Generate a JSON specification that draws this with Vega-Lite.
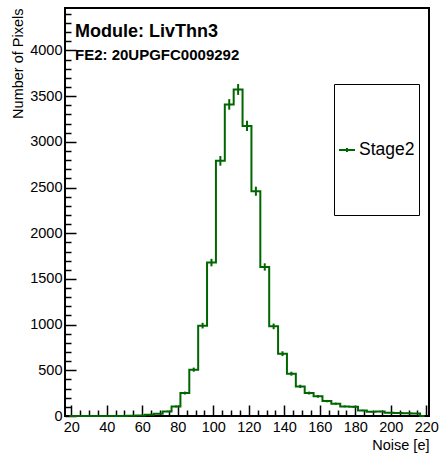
{
  "$schema": "https://vega.github.io/schema/vega-lite/v6.json",
  "width": 364,
  "height": 408,
  "autosize": {"type": "none"},
  "padding": {"left": 65, "top": 8, "right": 12, "bottom": 41},
  "background": "white",
  "title": {
    "text": "Module: LivThn3",
    "subtitle": "FE2: 20UPGFC0009292",
    "anchor": "start",
    "frame": "group",
    "orient": "top",
    "offset": -57,
    "dx": 10,
    "font": "Liberation Sans",
    "fontSize": 18,
    "fontWeight": "bold",
    "color": "black",
    "subtitleFont": "Liberation Sans",
    "subtitleFontSize": 15,
    "subtitleFontWeight": "bold",
    "subtitleColor": "black",
    "subtitlePadding": 7
  },
  "data": {
    "values": [
      {"noise": 19, "count": 0, "err": 0, "series": "Stage2"},
      {"noise": 24, "count": 0, "err": 0, "series": "Stage2"},
      {"noise": 29, "count": 0, "err": 0, "series": "Stage2"},
      {"noise": 34, "count": 0, "err": 0, "series": "Stage2"},
      {"noise": 39, "count": 0, "err": 0, "series": "Stage2"},
      {"noise": 44, "count": 0, "err": 0, "series": "Stage2"},
      {"noise": 49, "count": 0, "err": 0, "series": "Stage2"},
      {"noise": 54, "count": 2, "err": 1.4, "series": "Stage2"},
      {"noise": 59, "count": 5, "err": 2.2, "series": "Stage2"},
      {"noise": 64, "count": 14, "err": 3.7, "series": "Stage2"},
      {"noise": 69, "count": 25, "err": 5, "series": "Stage2"},
      {"noise": 74, "count": 50, "err": 7, "series": "Stage2"},
      {"noise": 79, "count": 105, "err": 10, "series": "Stage2"},
      {"noise": 84, "count": 251, "err": 16, "series": "Stage2"},
      {"noise": 89, "count": 507, "err": 22.5, "series": "Stage2"},
      {"noise": 94, "count": 989, "err": 31, "series": "Stage2"},
      {"noise": 99, "count": 1679, "err": 41, "series": "Stage2"},
      {"noise": 104, "count": 2792, "err": 53, "series": "Stage2"},
      {"noise": 109, "count": 3410, "err": 58, "series": "Stage2"},
      {"noise": 114, "count": 3574, "err": 60, "series": "Stage2"},
      {"noise": 119, "count": 3175, "err": 56, "series": "Stage2"},
      {"noise": 124, "count": 2460, "err": 50, "series": "Stage2"},
      {"noise": 129, "count": 1631, "err": 40, "series": "Stage2"},
      {"noise": 134, "count": 981, "err": 31, "series": "Stage2"},
      {"noise": 139, "count": 682, "err": 26, "series": "Stage2"},
      {"noise": 144, "count": 463, "err": 21.5, "series": "Stage2"},
      {"noise": 149, "count": 324, "err": 18, "series": "Stage2"},
      {"noise": 154, "count": 251, "err": 16, "series": "Stage2"},
      {"noise": 159, "count": 215, "err": 14.7, "series": "Stage2"},
      {"noise": 164, "count": 163, "err": 12.8, "series": "Stage2"},
      {"noise": 169, "count": 135, "err": 11.6, "series": "Stage2"},
      {"noise": 174, "count": 105, "err": 10.2, "series": "Stage2"},
      {"noise": 179, "count": 100, "err": 10, "series": "Stage2"},
      {"noise": 184, "count": 61, "err": 7.8, "series": "Stage2"},
      {"noise": 189, "count": 47, "err": 6.9, "series": "Stage2"},
      {"noise": 194, "count": 49, "err": 7, "series": "Stage2"},
      {"noise": 199, "count": 36, "err": 6, "series": "Stage2"},
      {"noise": 204, "count": 32, "err": 5.7, "series": "Stage2"},
      {"noise": 209, "count": 30, "err": 5.5, "series": "Stage2"},
      {"noise": 214, "count": 28, "err": 5.3, "series": "Stage2"},
      {"noise": 219, "count": 0, "err": 0, "series": "Stage2"}
    ]
  },
  "encoding": {
    "x": {
      "field": "noise",
      "type": "quantitative",
      "scale": {"domain": [16.5, 221.5], "nice": false, "zero": false},
      "axis": {
        "values": [20, 25, 30, 35, 40, 45, 50, 55, 60, 65, 70, 75, 80, 85, 90, 95, 100, 105, 110, 115, 120, 125, 130, 135, 140, 145, 150, 155, 160, 165, 170, 175, 180, 185, 190, 195, 200, 205, 210, 215, 220],
        "format": "d",
        "labelExpr": "datum.value % 20 === 0 ? datum.label : ''",
        "tickSize": {"condition": {"test": "datum.value % 20 === 0", "value": -11}, "value": -6},
        "tickColor": "black",
        "tickWidth": 1.5,
        "labelPadding": 15,
        "labelFont": "Liberation Sans",
        "labelFontSize": 14.5,
        "labelColor": "black",
        "labelFlush": false,
        "labelOverlap": false,
        "domain": false,
        "grid": false,
        "title": "Noise [e]",
        "titleAnchor": "end",
        "titleAlign": "right",
        "titleBaseline": "middle",
        "titleX": 364,
        "titleY": 29,
        "titleFont": "Liberation Sans",
        "titleFontSize": 14.5,
        "titleFontWeight": "normal",
        "titleColor": "black"
      }
    },
    "y": {
      "field": "count",
      "type": "quantitative",
      "scale": {"domain": [0, 4465], "nice": false, "zero": true},
      "axis": {
        "values": [0, 100, 200, 300, 400, 500, 600, 700, 800, 900, 1000, 1100, 1200, 1300, 1400, 1500, 1600, 1700, 1800, 1900, 2000, 2100, 2200, 2300, 2400, 2500, 2600, 2700, 2800, 2900, 3000, 3100, 3200, 3300, 3400, 3500, 3600, 3700, 3800, 3900, 4000, 4100, 4200, 4300, 4400],
        "format": "d",
        "labelExpr": "datum.value % 500 === 0 ? datum.label : ''",
        "tickSize": {"condition": {"test": "datum.value % 500 === 0", "value": -11}, "value": -6},
        "tickColor": "black",
        "tickWidth": 1.5,
        "labelPadding": 14,
        "labelFont": "Liberation Sans",
        "labelFontSize": 14.5,
        "labelColor": "black",
        "labelFlush": false,
        "labelOverlap": false,
        "domain": false,
        "grid": false,
        "title": "Number of Pixels",
        "titleAngle": 270,
        "titleAnchor": "end",
        "titleAlign": "right",
        "titleBaseline": "middle",
        "titleX": -47,
        "titleY": 0,
        "titleFont": "Liberation Sans",
        "titleFontSize": 14.5,
        "titleFontWeight": "normal",
        "titleColor": "black"
      }
    }
  },
  "layer": [
    {
      "mark": {"type": "line", "interpolate": "step", "strokeWidth": 2},
      "encoding": {
        "color": {
          "field": "series",
          "type": "nominal",
          "scale": {"range": ["#006600"]},
          "legend": {
            "orient": "none",
            "legendX": 269,
            "legendY": 76,
            "title": " ",
            "titleFontSize": 20,
            "titlePadding": 33,
            "symbolType": "M-1,0H1M0,-0.25V0.25M-1,7.05",
            "symbolSize": 256,
            "symbolStrokeWidth": 2,
            "labelFont": "Liberation Sans",
            "labelFontSize": 17.5,
            "labelColor": "black",
            "labelOffset": 3,
            "labelExpr": "datum.label + ' '",
            "padding": 4,
            "strokeColor": "black",
            "fillColor": "white"
          }
        }
      }
    },
    {
      "mark": {"type": "errorbar", "color": "#006600", "thickness": 2},
      "encoding": {
        "yError": {"field": "err"}
      }
    }
  ],
  "config": {
    "view": {"stroke": "black", "strokeWidth": 2},
    "font": "Liberation Sans"
  }
}
